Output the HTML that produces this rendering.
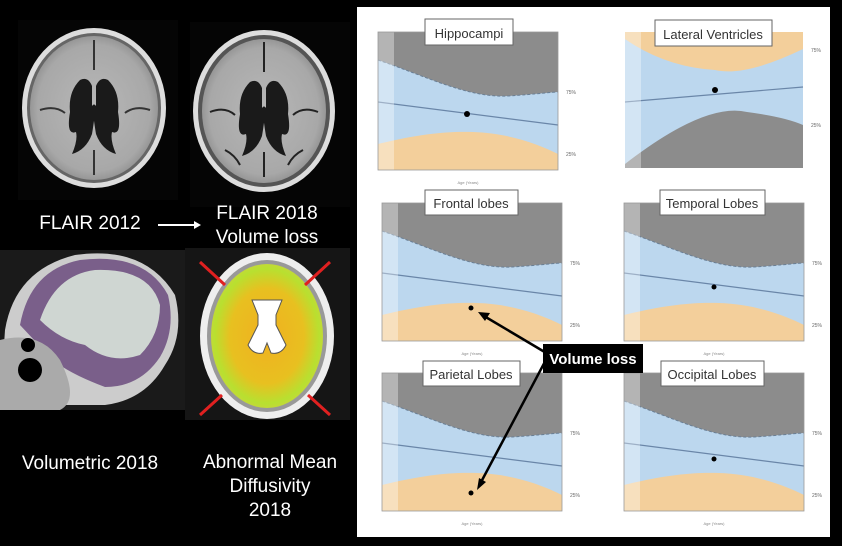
<!DOCTYPE html>
<html><head><meta charset="utf-8"><style>
html,body{margin:0;padding:0;background:#000;}
body{width:842px;height:546px;overflow:hidden;}
svg{display:block}
.t{font-family:"Liberation Sans",sans-serif;}
</style></head><body>
<svg width="842" height="546" viewBox="0 0 842 546" xmlns="http://www.w3.org/2000/svg">
<defs>
<radialGradient id="brain" cx="50%" cy="50%" r="55%">
<stop offset="0" stop-color="#b8b8b8"/><stop offset="0.8" stop-color="#a8a8a8"/><stop offset="1" stop-color="#888"/>
</radialGradient>
<radialGradient id="dti" cx="50%" cy="50%" r="55%">
<stop offset="0" stop-color="#f0b020"/><stop offset="0.6" stop-color="#e8c020"/><stop offset="0.85" stop-color="#b8e030"/><stop offset="1" stop-color="#d0d040"/>
</radialGradient>
<g id="vent">
<path d="M-14,-30 q8,-4 12,6 l0,20 q6,-8 0,28 q-6,16 -20,20 q6,-14 4,-22 q-10,4 -6,-20 q-2,-20 10,-32z" fill="#1a1a1a"/>
<path d="M14,-30 q-8,-4 -12,6 l0,20 q-6,-8 0,28 q6,16 20,20 q-6,-14 -4,-22 q10,4 6,-20 q2,-20 -10,-32z" fill="#1a1a1a"/>
</g>
</defs>
<rect width="842" height="546" fill="#000"/>
<!-- FLAIR 2012 -->
<rect x="18" y="20" width="160" height="180" fill="#050505"/>
<ellipse cx="94" cy="108" rx="72" ry="80" fill="#ddd"/>
<ellipse cx="94" cy="108" rx="67" ry="75" fill="#666"/>
<ellipse cx="94" cy="108" rx="64" ry="72" fill="url(#brain)"/>
<use href="#vent" x="94" y="110"/>
<path d="M94,40 v30 M94,150 v25 M40,110 q15,-5 25,3 M150,110 q-15,-5 -25,3" stroke="#333" stroke-width="2" fill="none"/>
<!-- FLAIR 2018 -->
<rect x="190" y="22" width="160" height="185" fill="#050505"/>
<ellipse cx="264" cy="111" rx="71" ry="81" fill="#ddd"/>
<ellipse cx="264" cy="111" rx="66" ry="76" fill="#555"/>
<ellipse cx="264" cy="111" rx="62" ry="72" fill="url(#brain)"/>
<use href="#vent" x="264" y="112"/>
<path d="M264,42 v30 M264,152 v25 M210,112 q15,-6 25,3 M318,112 q-15,-6 -25,3 M225,150 q10,5 15,15 M303,150 q-10,5 -15,15" stroke="#222" stroke-width="2" fill="none"/>
<text x="90" y="229" class="t" font-size="19" fill="#fff" text-anchor="middle">FLAIR 2012</text>
<line x1="158" y1="225" x2="194" y2="225" stroke="#fff" stroke-width="2"/>
<path d="M194,221 l7,4 l-7,4z" fill="#fff"/>
<text x="267" y="219" class="t" font-size="19" fill="#fff" text-anchor="middle">FLAIR 2018</text>
<text x="267" y="243" class="t" font-size="19" fill="#fff" text-anchor="middle">Volume loss</text>
<!-- Sagittal -->
<rect x="0" y="250" width="185" height="160" fill="#1a1a1a"/>
<path d="M5,330 q10,-60 70,-75 q70,-10 100,40 q10,40 -10,70 q-20,35 -60,40 l-105,0z" fill="#ccc"/>
<path d="M20,325 q10,-55 60,-65 q65,-8 88,35 q8,35 -8,62 q-20,30 -55,30 q-40,-15 -55,-30z" fill="#7a5f8a"/>
<path d="M40,320 q15,-45 55,-50 q55,-2 65,35 q0,30 -20,50 q-30,10 -55,-10 q-25,-5 -45,-25z" fill="#cfd6d2"/>
<path d="M0,340 q40,-10 60,20 q20,40 0,50 l-60,0z" fill="#aaa"/>
<circle cx="30" cy="370" r="12" fill="#000"/>
<circle cx="28" cy="345" r="7" fill="#000"/>
<!-- DTI -->
<rect x="185" y="248" width="165" height="172" fill="#151515"/>
<ellipse cx="267" cy="336" rx="67" ry="83" fill="#eee"/>
<ellipse cx="267" cy="336" rx="60" ry="76" fill="#999"/>
<ellipse cx="267" cy="336" rx="56" ry="72" fill="url(#dti)"/>
<path d="M252,300 h30 l-6,15 v10 l10,20 q-5,10 -15,8 l-4,-10 l-4,10 q-10,2 -15,-8 l10,-20 v-10z" fill="#fff" stroke="#555"/>
<g stroke="#e02020" stroke-width="3">
<line x1="200" y1="262" x2="225" y2="285"/><line x1="330" y1="262" x2="305" y2="285"/>
<line x1="200" y1="415" x2="222" y2="395"/><line x1="330" y1="415" x2="308" y2="395"/>
</g>
<text x="90" y="469" class="t" font-size="19" fill="#fff" text-anchor="middle">Volumetric 2018</text>
<text x="270" y="468" class="t" font-size="19" fill="#fff" text-anchor="middle">Abnormal Mean</text>
<text x="270" y="492" class="t" font-size="19" fill="#fff" text-anchor="middle">Diffusivity</text>
<text x="270" y="516" class="t" font-size="19" fill="#fff" text-anchor="middle">2018</text>
<!-- right panel -->
<rect x="357" y="7" width="473" height="530" fill="#fff"/>
<defs>
<g id="std">
<rect width="180" height="138" fill="#bcd7ee"/>
<path d="M0,0 H180 V60 C175,60 160,62 130,64 C90,66 50,45 0,28z" fill="#8c8c8c"/>
<path d="M0,28 C50,45 90,66 130,64 C160,62 175,60 180,60" stroke="#6a7f95" stroke-dasharray="3,2" fill="none"/>
<path d="M0,112 C40,102 70,99 95,100 C130,101 160,112 180,122 V138 H0z" fill="#f3cf9b"/>
<line x1="0" y1="70" x2="180" y2="93" stroke="#6a86a8" stroke-width="1.2"/>
<rect width="16" height="138" fill="#fff" opacity="0.35"/>
<rect width="180" height="138" fill="none" stroke="#999" stroke-width="0.8"/>
<text x="188" y="62" font-size="5" fill="#666" class="t">75%</text>
<text x="188" y="124" font-size="5" fill="#666" class="t">25%</text>
<text x="90" y="152" font-size="4" fill="#888" class="t" text-anchor="middle">Age (Years)</text>
</g>
</defs>
<!-- Hippocampi -->
<g transform="translate(378,32)"><use href="#std"/><circle cx="89" cy="82" r="3" fill="#000"/></g>
<rect x="425" y="19" width="88" height="26" fill="#fff" stroke="#666"/>
<text x="469" y="38" class="t" font-size="13" fill="#333" text-anchor="middle">Hippocampi</text>
<!-- Lateral ventricles -->
<g transform="translate(625,32)">
<rect width="178" height="136" fill="#bcd7ee"/>
<path d="M0,0 H178 V17 Q120,45 90,38 Q40,35 0,7z" fill="#f3cf9b"/>
<path d="M0,132 Q80,70 122,80 Q160,85 178,93 V136 H0z" fill="#8c8c8c"/>
<line x1="0" y1="70" x2="178" y2="55" stroke="#6a86a8" stroke-width="1.2"/>
<rect width="16" height="136" fill="#fff" opacity="0.35"/>
<circle cx="90" cy="58" r="3" fill="#000"/>
<text x="186" y="20" font-size="5" fill="#666" class="t">75%</text>
<text x="186" y="95" font-size="5" fill="#666" class="t">25%</text>
</g>
<rect x="655" y="20" width="117" height="26" fill="#fff" stroke="#666"/>
<text x="713" y="39" class="t" font-size="13" fill="#333" text-anchor="middle">Lateral Ventricles</text>
<!-- Frontal -->
<g transform="translate(382,203)"><use href="#std"/><circle cx="89" cy="105" r="2.5" fill="#000"/></g>
<rect x="425" y="190" width="93" height="25" fill="#fff" stroke="#666"/>
<text x="471" y="208" class="t" font-size="13" fill="#333" text-anchor="middle">Frontal lobes</text>
<!-- Temporal -->
<g transform="translate(624,203)"><use href="#std"/><circle cx="90" cy="84" r="2.5" fill="#000"/></g>
<rect x="660" y="190" width="105" height="25" fill="#fff" stroke="#666"/>
<text x="712" y="208" class="t" font-size="13" fill="#333" text-anchor="middle">Temporal Lobes</text>
<!-- Parietal -->
<g transform="translate(382,373)"><use href="#std"/><circle cx="89" cy="120" r="2.5" fill="#000"/></g>
<rect x="423" y="361" width="97" height="25" fill="#fff" stroke="#666"/>
<text x="471" y="379" class="t" font-size="13" fill="#333" text-anchor="middle">Parietal Lobes</text>
<!-- Occipital -->
<g transform="translate(624,373)"><use href="#std"/><circle cx="90" cy="86" r="2.5" fill="#000"/></g>
<rect x="661" y="361" width="103" height="25" fill="#fff" stroke="#666"/>
<text x="712" y="379" class="t" font-size="13" fill="#333" text-anchor="middle">Occipital Lobes</text>
<!-- Volume loss callout -->
<g stroke="#000" stroke-width="2.5">
<line x1="548" y1="354" x2="484" y2="316"/>
<line x1="548" y1="356" x2="480" y2="484"/>
</g>
<path d="M478,312 l12,1 l-5,8z" fill="#000"/>
<path d="M477,490 l2,-12 l7,4z" fill="#000"/>
<rect x="543" y="344" width="100" height="29" fill="#000"/>
<text x="593" y="364" class="t" font-size="15" font-weight="bold" fill="#fff" text-anchor="middle">Volume loss</text>
</svg>
</body></html>
